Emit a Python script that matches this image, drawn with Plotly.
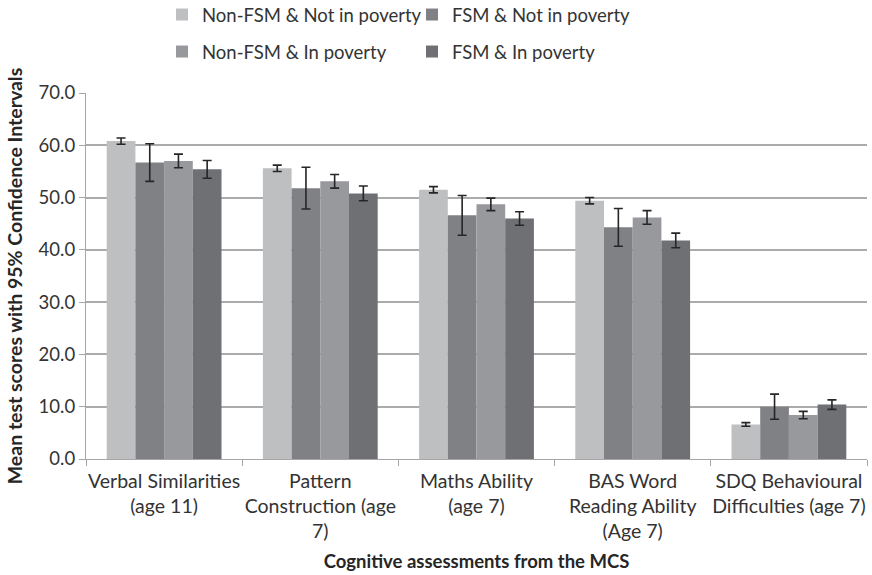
import plotly.graph_objects as go

categories = [
    "Verbal Similarities<br>(age 11)",
    "Pattern<br>Construction (age<br>7)",
    "Maths Ability<br>(age 7)",
    "BAS Word<br>Reading Ability<br>(Age 7)",
    "SDQ Behavioural<br>Difficulties (age 7)",
]
series_names = [
    "Non-FSM & Not in poverty",
    "FSM & Not in poverty",
    "Non-FSM & In poverty",
    "FSM & In poverty",
]
nonfsm_notpov = [60.8, 55.6, 51.5, 49.4, 6.6]
nonfsm_notpov_ci = [0.6, 0.6, 0.6, 0.6, 0.35]
fsm_notpov = [56.7, 51.8, 46.6, 44.3, 10.0]
fsm_notpov_ci = [3.6, 4.0, 3.8, 3.6, 2.4]
nonfsm_pov = [57.0, 53.1, 48.7, 46.2, 8.4]
nonfsm_pov_ci = [1.3, 1.3, 1.2, 1.3, 0.7]
fsm_pov = [55.4, 50.8, 46.0, 41.8, 10.4]
fsm_pov_ci = [1.7, 1.4, 1.3, 1.4, 0.9]

values = [nonfsm_notpov, fsm_notpov, nonfsm_pov, fsm_pov]
cis = [nonfsm_notpov_ci, fsm_notpov_ci, nonfsm_pov_ci, fsm_pov_ci]
colors = ["#BEBFC1", "#808184", "#98999C", "#6F7073"]
legends = ["legend", "legend", "legend2", "legend2"]

FONT = "Lato"
TXT = "#333333"
FS = 18.5

fig = go.Figure()
for name, v, ci, c, lg in zip(series_names, values, cis, colors, legends):
    fig.add_trace(go.Bar(
        x=categories, y=v, name=name, marker_color=c, marker_line_width=0,
        error_y=dict(type="data", array=ci, visible=True, color="#262626",
                     thickness=1.6, width=4.5),
        legend=lg,
    ))

legend_common = dict(
    orientation="h", entrywidth=205, entrywidthmode="pixels",
    font=dict(family=FONT, size=FS, color=TXT),
    bgcolor="rgba(0,0,0,0)", xref="container", yref="container",
    xanchor="left", yanchor="middle", itemclick=False,
    tracegroupgap=0,
)

fig.update_layout(
    width=872, height=575,
    margin=dict(l=86, r=5, t=93, b=116, autoexpand=False),
    paper_bgcolor="white", plot_bgcolor="white",
    barmode="group", bargap=0.265, bargroupgap=0,
    font=dict(family=FONT, size=FS, color=TXT),
    showlegend=True,
    legend=dict(legend_common, x=162 / 872, y=1 - 15 / 575),
    legend2=dict(legend_common, x=162 / 872, y=1 - 52 / 575),
    xaxis=dict(
        showline=True, linecolor="#A6A6A6", linewidth=1.3,
        ticks="outside", tickson="boundaries", ticklen=6, tickcolor="#A6A6A6",
        tickangle=0, automargin=False, ticklabelstandoff=4,
        tickfont=dict(family=FONT, size=19.5, color=TXT),
        title=dict(text="<b>Cognitive assessments from the MCS</b>",
                   font=dict(family=FONT, size=FS, color="#262626"), standoff=13),
    ),
    yaxis=dict(
        range=[0, 70], dtick=10, tickformat=".1f", automargin=False,
        showgrid=True, gridcolor="#ABABAB", gridwidth=1.5,
        showline=True, linecolor="#A6A6A6", linewidth=1.3,
        ticks="outside", ticklen=6, tickcolor="#A6A6A6",
        zeroline=False,
        tickfont=dict(family=FONT, size=FS, color=TXT),
        title=dict(text="<b>Mean test scores with 95% Confidence Intervals</b>",
                   font=dict(family=FONT, size=19.5, color="#262626"), standoff=10),
    ),
)

fig.write_html("out.html")
